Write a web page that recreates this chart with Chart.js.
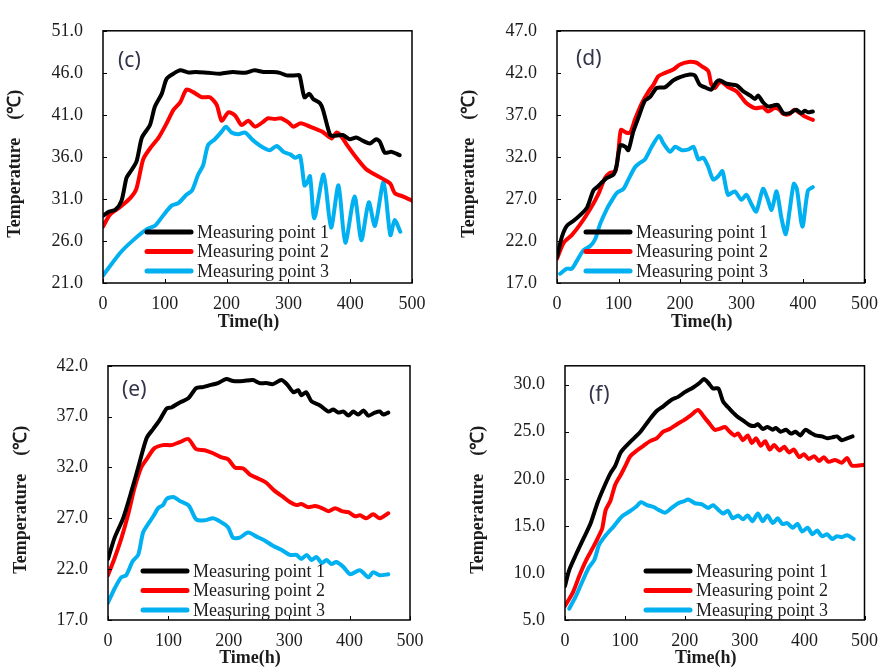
<!DOCTYPE html>
<html>
<head>
<meta charset="utf-8">
<script src="https://cdn.jsdelivr.net/npm/chart.js@4/dist/chart.umd.min.js"></script>
<style>
body { margin: 0; background: #fff; }
#wrap { position: relative; width: 888px; height: 671px; }
canvas { position: absolute; }
</style>
</head>
<body>
<div id="wrap">
  <canvas id="pc" width="444" height="335" style="left:0;top:0"></canvas>
  <canvas id="pd" width="444" height="335" style="left:444px;top:0"></canvas>
  <canvas id="pe" width="444" height="336" style="left:0;top:335px"></canvas>
  <canvas id="pf" width="444" height="336" style="left:444px;top:335px"></canvas>
</div>
<script>
// series names and colours
const names = ['Measuring point 1', 'Measuring point 2', 'Measuring point 3'];
const colors = ['#000000', '#ff0000', '#00b0f0'];
const xTicks = [0, 100, 200, 300, 400, 500];

// (c)
const cTicks = [21, 26, 31, 36, 41, 46, 51];
const cTime1 = [0,10,20,30,38,44,54,63,76,84,95,103,114,125,138,150,170,190,210,230,245,260,275,286,297,313,318,326,334,340,351,356,367,372,388,399,410,421,432,442,448,456,467,480];
const cTemp1 = [29.0,29.5,29.7,30.8,33.5,34.2,35.4,38.3,39.8,42.0,43.5,45.3,45.9,46.3,46.05,46.1,46.0,45.9,46.1,46.0,46.3,46.1,46.1,46.0,45.7,45.7,45.7,43.1,43.5,42.9,42.4,41.6,38.7,38.5,38.6,38.1,38.3,37.9,37.6,38.1,37.8,36.5,36.6,36.2];
const cTime2 = [0,11,27,44,54,65,76,90,103,114,125,135,146,160,173,184,192,203,214,224,235,246,258,267,278,288,300,308,320,335,345,355,365,370,378,385,395,410,425,440,455,465,472,485,500];
const cTemp2 = [27.7,29.1,30.0,31.1,32.2,35.7,37.0,38.3,40.0,41.6,42.5,44.0,43.7,43.1,43.1,42.2,40.3,41.3,40.9,39.8,40.3,39.6,40.1,40.6,40.5,40.6,40.1,39.6,40.0,39.6,39.3,39.0,38.4,38.2,38.9,38.5,37.4,35.9,34.6,33.9,33.3,32.8,31.7,31.3,30.8];
const cTime3 = [0,28,49,71,84,98,111,122,135,144,154,162,170,181,192,199,208,219,230,241,249,257,270,281,292,303,311,319,326,330,335,342,357,369,381,392,407,418,430,440,454,465,472,481];
const cTemp3 = [21.9,24.6,26.1,27.4,27.8,29.1,30.2,30.5,31.5,32.0,33.9,35.0,37.4,38.1,39.0,39.6,38.9,38.7,38.9,38.1,37.6,37.2,36.8,37.3,36.6,36.3,35.9,36.1,32.6,32.9,33.7,28.7,33.9,27.6,32.6,25.8,31.3,26.1,30.6,27.8,33.0,26.7,28.5,27.1];

// (d)
const dTicks = [17, 22, 27, 32, 37, 42, 47];
const dTime1 = [0,8,16,27,38,49,59,65,81,92,97,103,111,116,124,133,143,151,162,176,189,200,216,224,232,243,251,259,265,276,292,303,314,322,327,335,343,351,359,368,378,389,397,403,408,416];
const dTemp1 = [20.1,22.5,23.8,24.4,25.1,26.0,28.0,28.4,29.5,29.9,31.0,33.4,33.2,32.8,35.0,36.8,38.7,39.1,40.2,40.3,41.1,41.5,41.8,41.7,40.6,40.2,40.0,40.9,41.1,40.7,40.5,39.8,39.3,38.9,39.3,38.5,38.0,38.1,38.2,37.2,37.2,37.6,37.2,37.5,37.3,37.4];
const dTime2 = [0,11,24,38,54,68,78,86,95,100,104,112,119,127,138,149,157,165,176,189,200,214,227,235,246,251,257,262,268,278,292,300,308,322,335,343,354,362,368,378,386,395,403,416];
const dTemp2 = [19.9,21.8,22.7,24.0,25.8,27.7,29.5,30.1,30.3,32.8,35.2,34.9,34.9,36.5,38.4,39.8,40.6,41.6,42.0,42.4,43.0,43.3,43.2,42.8,42.2,40.6,40.2,40.7,40.9,40.3,39.8,39.1,38.4,37.8,37.9,37.4,37.8,37.6,37.1,37.1,37.6,37.2,36.8,36.4];
const dTime3 = [5,16,24,32,43,54,62,70,81,89,97,108,116,127,135,143,154,166,173,184,192,203,214,222,230,238,246,254,262,269,278,289,300,308,316,324,335,342,349,357,365,372,378,385,390,399,408,416];
const dTemp3 = [18.1,18.7,18.7,19.6,20.9,21.4,22.2,24.0,25.8,26.8,27.7,28.2,29.3,30.8,31.3,31.7,33.2,34.5,33.6,32.6,33.2,32.8,32.9,33.2,31.7,31.9,30.8,29.3,29.7,30.3,27.5,27.9,26.9,27.5,26.4,25.5,28.2,27.1,25.7,27.9,24.7,22.8,25.5,28.8,28.2,23.7,28.0,28.4];

// (e)
const eTicks = [17, 22, 27, 32, 37, 42];
const eTime1 = [0,11,25,39,50,64,75,86,97,105,119,133,146,157,169,182,196,207,224,240,251,262,273,287,296,307,315,320,328,337,351,365,373,381,390,398,406,414,423,431,442,450,456,464];
const eTemp1 = [23.0,25.1,27.0,29.7,32.0,34.9,35.8,36.7,37.8,37.9,38.4,38.8,39.8,39.9,40.1,40.3,40.7,40.5,40.5,40.6,40.3,40.3,40.2,40.6,40.2,39.4,39.6,39.1,39.4,38.5,38.1,37.5,37.7,37.4,37.5,37.1,37.5,37.2,37.6,37.1,37.4,37.5,37.2,37.4];
const eTime2 = [0,11,22,33,44,55,66,77,91,105,119,133,146,160,174,188,199,210,224,235,249,262,276,290,301,312,320,331,343,354,365,376,387,398,409,417,428,439,450,464];
const eTemp2 = [21.4,23.1,25.0,27.3,30.0,32.0,33.0,33.9,34.2,34.2,34.5,34.8,33.8,33.7,33.4,33.0,32.8,32.0,31.9,31.3,30.9,30.5,29.7,29.1,28.6,28.3,28.4,28.1,28.2,28.0,27.7,28.0,27.7,27.6,27.2,27.3,27.0,27.4,27.0,27.5];
const eTime3 = [0,11,22,30,41,50,58,66,75,83,91,97,108,119,133,138,146,160,174,188,199,207,218,232,246,260,273,287,301,312,320,329,337,345,354,362,370,378,390,401,417,431,439,450,464];
const eTemp3 = [18.7,20.1,21.2,21.4,22.8,23.4,25.6,26.4,27.2,28.0,28.3,28.9,29.1,28.7,28.3,27.8,26.9,26.8,27.0,26.6,26.1,25.1,25.1,25.6,25.2,24.8,24.3,23.9,23.4,23.4,23.0,23.4,22.9,23.2,22.6,22.9,22.5,22.7,22.2,21.5,21.9,21.2,21.7,21.4,21.5];

// (f)
const fTicks = [5, 10, 15, 20, 25, 30];
const fTime1 = [0,7,18,32,43,54,65,76,84,93,104,115,126,140,153,164,178,189,200,214,225,232,239,247,256,264,275,286,297,308,316,322,330,338,347,352,360,369,377,385,393,401,410,418,429,438,446,454,462,471,480];
const fTemp1 = [8.6,10.3,11.9,13.8,15.3,17.4,19.1,20.6,21.4,22.8,23.6,24.3,25.0,26.2,27.2,27.7,28.4,28.7,29.2,29.7,30.2,30.6,30.2,29.6,29.6,28.2,27.4,26.7,26.2,25.7,25.6,25.8,25.3,25.5,25.2,25.4,25.0,25.2,24.8,25.0,24.6,25.2,24.9,24.6,24.5,24.3,24.4,24.5,24.1,24.3,24.5];
const fTime2 = [0,13,24,35,46,57,62,68,76,84,93,101,109,120,131,142,153,164,175,187,198,211,222,233,242,250,258,267,275,283,289,297,305,312,319,327,334,342,349,358,366,374,382,391,399,407,416,424,432,440,451,462,471,479,500];
const fTemp2 = [6.5,7.9,9.7,11.3,12.6,14.0,14.7,16.7,17.7,19.4,20.4,21.4,22.4,23.0,23.5,24.0,24.3,25.0,25.3,25.8,26.2,26.8,27.3,26.5,25.8,25.2,25.3,25.5,25.0,24.6,24.8,24.1,24.6,23.8,24.3,23.5,24.0,23.1,23.6,23.0,23.4,22.8,23.1,22.3,22.6,22.1,22.4,21.9,22.3,21.8,22.0,21.7,22.2,21.4,21.5];
const fTime3 = [7,18,29,40,49,57,68,82,95,107,118,127,137,148,156,167,178,189,198,206,217,228,239,247,256,264,272,280,289,297,305,313,322,330,338,347,355,363,371,380,388,396,405,413,421,429,438,446,454,462,471,482];
const fTemp3 = [6.2,7.5,9.1,10.6,11.4,13.0,14.0,15.0,16.0,16.5,17.0,17.5,17.2,17.0,16.7,16.4,16.9,17.4,17.6,17.8,17.4,17.3,16.9,17.2,16.7,16.3,16.6,15.8,16.1,15.7,16.1,15.5,16.3,15.5,16.1,15.3,15.8,15.2,15.3,14.8,15.2,14.4,14.8,14.1,14.5,13.9,14.1,13.6,13.9,13.8,14.0,13.6];

const serif = '"Liberation Serif", "Times New Roman", serif';
const textCol = '#1c1c1c';

function pts(ts, vs) {
  return ts.map((t, i) => ({x: t, y: vs[i]}));
}

// box, inner ticks, panel letter and legend inside the plot
const framePlugin = {
  id: 'frame',
  afterDatasetsDraw(chart, args, opts) {
    const {ctx, chartArea: a} = chart;
    const x = chart.scales.x, y = chart.scales.y;
    ctx.save();
    ctx.strokeStyle = '#000';
    ctx.lineWidth = 1.5;
    ctx.strokeRect(a.left, a.top, a.right - a.left, a.bottom - a.top);
    ctx.lineWidth = 1;
    x.ticks.forEach(t => {
      const px = Math.round(x.getPixelForValue(t.value)) + 0.5;
      ctx.beginPath(); ctx.moveTo(px, a.bottom); ctx.lineTo(px, a.bottom - 4); ctx.stroke();
    });
    y.ticks.forEach(t => {
      const py = Math.round(y.getPixelForValue(t.value)) + 0.5;
      ctx.beginPath(); ctx.moveTo(a.left, py); ctx.lineTo(a.left + 4, py); ctx.stroke();
    });

    ctx.fillStyle = '#33334a';
    ctx.font = '21px "Noto Sans", sans-serif';
    ctx.textBaseline = 'middle';
    ctx.textAlign = 'left';
    ctx.fillText(opts.label, a.left + opts.lx, a.top + opts.ly);

    ctx.font = '18px ' + serif;
    chart.data.datasets.forEach((ds, i) => {
      const ly = a.bottom - opts.legY + i * 19.5;
      const lx = a.left + opts.legX;
      ctx.strokeStyle = ds.borderColor;
      ctx.lineWidth = 5;
      ctx.lineCap = 'round';
      ctx.beginPath(); ctx.moveTo(lx, ly); ctx.lineTo(lx + 44, ly); ctx.stroke();
      ctx.fillStyle = textCol;
      ctx.fillText(ds.label, lx + 50, ly + 1);
    });
    ctx.restore();
  }
};

function makeChart(id, series, yTicks, box) {
  const datasets = series.map((s, i) => ({
    label: names[i],
    data: pts(s[0], s[1]),
    borderColor: colors[i],
    borderWidth: 4,
    borderCapStyle: 'round',
    borderJoinStyle: 'round',
    pointRadius: 0,
    tension: 0.25,
    fill: false
  }));
  return new Chart(document.getElementById(id), {
    type: 'line',
    data: {datasets: datasets},
    options: {
      responsive: false,
      animation: false,
      events: [],
      layout: {padding: {left: 0, top: box.top, right: box.right, bottom: 0}},
      plugins: {
        legend: {display: false},
        tooltip: {enabled: false},
        frame: box.frame
      },
      scales: {
        x: {
          type: 'linear',
          min: xTicks[0],
          max: xTicks[xTicks.length - 1],
          afterBuildTicks: s => { s.ticks = xTicks.map(v => ({value: v})); },
          afterFit: s => { s.height = box.xh; },
          grid: {display: false, drawTicks: false},
          border: {display: false},
          ticks: {padding: 10, color: textCol, font: {family: serif, size: 18}},
          // trailing spaces nudge the centred title a little left, as in the figure
          title: {display: true, text: 'Time(h)    ', color: textCol,
                  font: {family: serif, size: 18, weight: 'bold'}, padding: {top: 0, bottom: 2}}
        },
        y: {
          type: 'linear',
          min: yTicks[0],
          max: box.yMax,
          afterBuildTicks: s => { s.ticks = yTicks.map(v => ({value: v})); },
          afterFit: s => { s.width = box.yw; },
          grid: {display: false, drawTicks: false},
          border: {display: false},
          ticks: {padding: 20, color: textCol, font: {family: serif, size: 18},
                  callback: v => Number(v).toFixed(1)},
          title: {display: true, text: 'Temperature    (℃)   ', color: textCol,
                  font: {family: serif, size: 18, weight: 'bold'}, padding: {top: box.tp, bottom: 0}}
        }
      }
    },
    plugins: [framePlugin]
  });
}

makeChart('pc', [[cTime1, cTemp1], [cTime2, cTemp2], [cTime3, cTemp3]], cTicks,
  {top: 12, right: 32, yw: 103, xh: 52, yMax: 51, tp: 5,
   frame: {label: '(c)', lx: 15, ly: 30, legX: 44, legY: 51}});
makeChart('pd', [[dTime1, dTemp1], [dTime2, dTemp2], [dTime3, dTemp3]], dTicks,
  {top: 12, right: 22, yw: 113, xh: 52, yMax: 47, tp: 15,
   frame: {label: '(d)', lx: 19, ly: 28, legX: 29, legY: 51}});
makeChart('pe', [[eTime1, eTemp1], [eTime2, eTemp2], [eTime3, eTemp3]], eTicks,
  {top: 19, right: 34, yw: 108, xh: 51, yMax: 42, tp: 11,
   frame: {label: '(e)', lx: 14, ly: 24, legX: 35, legY: 49}});
makeChart('pf', [[fTime1, fTemp1], [fTime2, fTemp2], [fTime3, fTemp3]], fTicks,
  {top: 19, right: 21, yw: 121, xh: 51, yMax: 32, tp: 24,
   frame: {label: '(f)', lx: 24, ly: 29, legX: 81, legY: 49}});
</script>
</body>
</html>
